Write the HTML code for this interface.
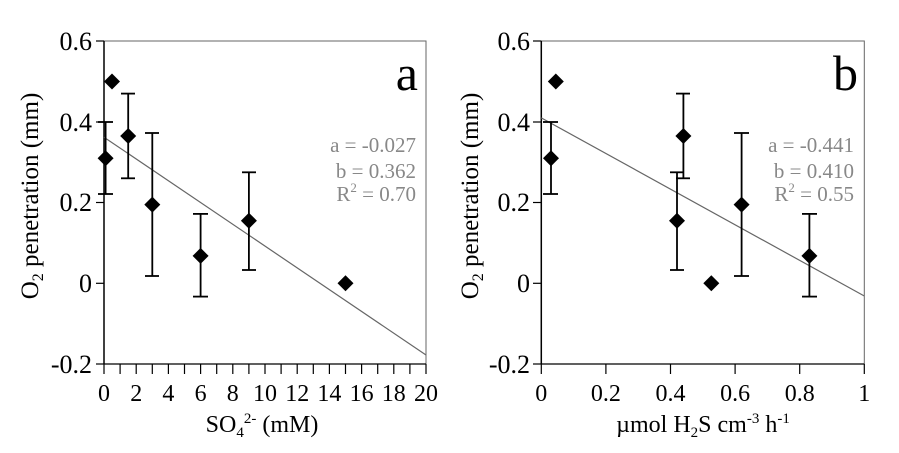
<!DOCTYPE html>
<html><head><style>body{margin:0;background:#fff}svg{display:block}text{font-family:"Liberation Serif",serif}</style></head>
<body>
<svg width="899" height="453" viewBox="0 0 899 453" xmlns="http://www.w3.org/2000/svg">
<defs><path id="d" d="M0,-8 L8,0 L0,8 L-8,0Z" fill="#000"/></defs>
<!-- Panel a -->
<g>
<rect x="104" y="41" width="322" height="323" fill="none" stroke="#666" stroke-width="1"/>
<line x1="104" y1="41" x2="104" y2="364" stroke="#000" stroke-width="1.5"/>
<line x1="104" y1="364" x2="426" y2="364" stroke="#000" stroke-width="1.2"/>
<g stroke="#000" stroke-width="1.2">
<line x1="96" y1="41" x2="104" y2="41"/><line x1="96" y1="122" x2="104" y2="122"/><line x1="96" y1="202.5" x2="104" y2="202.5"/><line x1="96" y1="283.3" x2="104" y2="283.3"/><line x1="96" y1="364" x2="104" y2="364"/>
<line x1="104" y1="364" x2="104" y2="374"/><line x1="120.1" y1="364" x2="120.1" y2="374"/><line x1="136.2" y1="364" x2="136.2" y2="374"/><line x1="152.3" y1="364" x2="152.3" y2="374"/><line x1="168.4" y1="364" x2="168.4" y2="374"/><line x1="184.5" y1="364" x2="184.5" y2="374"/><line x1="200.6" y1="364" x2="200.6" y2="374"/><line x1="216.7" y1="364" x2="216.7" y2="374"/><line x1="232.8" y1="364" x2="232.8" y2="374"/><line x1="248.9" y1="364" x2="248.9" y2="374"/><line x1="265" y1="364" x2="265" y2="374"/><line x1="281.1" y1="364" x2="281.1" y2="374"/><line x1="297.2" y1="364" x2="297.2" y2="374"/><line x1="313.3" y1="364" x2="313.3" y2="374"/><line x1="329.4" y1="364" x2="329.4" y2="374"/><line x1="345.5" y1="364" x2="345.5" y2="374"/><line x1="361.6" y1="364" x2="361.6" y2="374"/><line x1="377.7" y1="364" x2="377.7" y2="374"/><line x1="393.8" y1="364" x2="393.8" y2="374"/><line x1="409.9" y1="364" x2="409.9" y2="374"/><line x1="426" y1="364" x2="426" y2="374"/>
</g>
<g font-size="26" text-anchor="end" fill="#000">
<text x="92" y="50">0.6</text><text x="92" y="131">0.4</text><text x="92" y="211">0.2</text><text x="92" y="292">0</text><text x="92" y="373">-0.2</text>
</g>
<g font-size="24" text-anchor="middle" fill="#000">
<text x="104" y="401">0</text><text x="136.2" y="401">2</text><text x="168.4" y="401">4</text><text x="200.6" y="401">6</text><text x="232.8" y="401">8</text><text x="265" y="401">10</text><text x="297.2" y="401">12</text><text x="329.4" y="401">14</text><text x="361.6" y="401">16</text><text x="393.8" y="401">18</text><text x="426" y="401">20</text>
</g>
<text x="262" y="432" font-size="24" text-anchor="middle">SO<tspan font-size="15" dy="5">4</tspan><tspan font-size="15" dy="-14">2-</tspan><tspan dy="9"> (mM)</tspan></text>
<text transform="translate(38,196) rotate(-90)" font-size="25" text-anchor="middle">O<tspan font-size="16" dy="5">2</tspan><tspan dy="-5"> penetration (mm)</tspan></text>
<line x1="104" y1="137.2" x2="426" y2="355" stroke="#666" stroke-width="1.2"/>
<g stroke="#000" stroke-width="1.8">
<line x1="105.6" y1="122" x2="105.6" y2="194"/><line x1="98" y1="122" x2="113" y2="122"/><line x1="98" y1="194" x2="113" y2="194"/>
<line x1="128.2" y1="93.6" x2="128.2" y2="178.3"/><line x1="121" y1="93.6" x2="135" y2="93.6"/><line x1="121" y1="178.3" x2="135" y2="178.3"/>
<line x1="152.3" y1="133" x2="152.3" y2="276"/><line x1="145" y1="133" x2="159" y2="133"/><line x1="145" y1="276" x2="159" y2="276"/>
<line x1="200.6" y1="213.9" x2="200.6" y2="296.6"/><line x1="193" y1="213.9" x2="208" y2="213.9"/><line x1="193" y1="296.6" x2="208" y2="296.6"/>
<line x1="248.9" y1="172.3" x2="248.9" y2="270"/><line x1="242" y1="172.3" x2="256" y2="172.3"/><line x1="242" y1="270" x2="256" y2="270"/>
</g>
<use href="#d" x="105.6" y="158.2"/><use href="#d" x="112" y="81.5"/><use href="#d" x="128.2" y="136"/><use href="#d" x="152.3" y="204.6"/><use href="#d" x="200.6" y="255.9"/><use href="#d" x="248.9" y="220.7"/><use href="#d" x="345.5" y="283.3"/>
<text x="418" y="90" font-size="50" text-anchor="end">a</text>
<g font-size="21" fill="#888" text-anchor="end"><text x="416" y="152">a = -0.027</text><text x="416" y="178">b = 0.362</text><text x="416" y="201">R<tspan font-size="13" dy="-9">2</tspan><tspan dy="9"> = 0.70</tspan></text></g>
</g>
<!-- Panel b -->
<g>
<rect x="541.3" y="41" width="323" height="323" fill="none" stroke="#666" stroke-width="1"/>
<line x1="541.3" y1="41" x2="541.3" y2="364" stroke="#000" stroke-width="1.5"/>
<line x1="541.3" y1="364" x2="864.3" y2="364" stroke="#000" stroke-width="1.2"/>
<g stroke="#000" stroke-width="1.2">
<line x1="533" y1="41" x2="541.3" y2="41"/><line x1="533" y1="122" x2="541.3" y2="122"/><line x1="533" y1="202.5" x2="541.3" y2="202.5"/><line x1="533" y1="283.3" x2="541.3" y2="283.3"/><line x1="533" y1="364" x2="541.3" y2="364"/>
<line x1="541.3" y1="364" x2="541.3" y2="374"/><line x1="605.9" y1="364" x2="605.9" y2="374"/><line x1="670.5" y1="364" x2="670.5" y2="374"/><line x1="735.1" y1="364" x2="735.1" y2="374"/><line x1="799.7" y1="364" x2="799.7" y2="374"/><line x1="864.3" y1="364" x2="864.3" y2="374"/>
</g>
<g font-size="26" text-anchor="end" fill="#000">
<text x="530" y="50">0.6</text><text x="530" y="131">0.4</text><text x="530" y="211">0.2</text><text x="530" y="292">0</text><text x="530" y="373">-0.2</text>
</g>
<g font-size="24" text-anchor="middle" fill="#000">
<text x="541.3" y="401">0</text><text x="605.9" y="401">0.2</text><text x="670.5" y="401">0.4</text><text x="735.1" y="401">0.6</text><text x="799.7" y="401">0.8</text><text x="864.3" y="401">1</text>
</g>
<text x="703" y="432" font-size="24" text-anchor="middle">µmol H<tspan font-size="15" dy="5">2</tspan><tspan dy="-5">S cm</tspan><tspan font-size="15" dy="-9">-3</tspan><tspan dy="9"> h</tspan><tspan font-size="15" dy="-9">-1</tspan></text>
<text transform="translate(478,196) rotate(-90)" font-size="25" text-anchor="middle">O<tspan font-size="16" dy="5">2</tspan><tspan dy="-5"> penetration (mm)</tspan></text>
<line x1="541.3" y1="117.9" x2="864.3" y2="296" stroke="#666" stroke-width="1.2"/>
<g stroke="#000" stroke-width="1.8">
<line x1="551" y1="122" x2="551" y2="194"/><line x1="543" y1="122" x2="558" y2="122"/><line x1="543" y1="194" x2="558" y2="194"/>
<line x1="683.4" y1="93.6" x2="683.4" y2="178.3"/><line x1="676" y1="93.6" x2="690" y2="93.6"/><line x1="676" y1="178.3" x2="690" y2="178.3"/>
<line x1="677" y1="172.3" x2="677" y2="270"/><line x1="670" y1="172.3" x2="684" y2="172.3"/><line x1="670" y1="270" x2="684" y2="270"/>
<line x1="741.6" y1="133" x2="741.6" y2="276"/><line x1="734" y1="133" x2="749" y2="133"/><line x1="734" y1="276" x2="749" y2="276"/>
<line x1="809.4" y1="213.9" x2="809.4" y2="296.6"/><line x1="802" y1="213.9" x2="817" y2="213.9"/><line x1="802" y1="296.6" x2="817" y2="296.6"/>
</g>
<use href="#d" x="551" y="158.2"/><use href="#d" x="555.8" y="81.5"/><use href="#d" x="683.4" y="136"/><use href="#d" x="677" y="220.7"/><use href="#d" x="711.3" y="283.3"/><use href="#d" x="741.6" y="204.6"/><use href="#d" x="809.4" y="255.9"/>
<text x="858" y="90" font-size="50" text-anchor="end">b</text>
<g font-size="21" fill="#888" text-anchor="end"><text x="854" y="152">a = -0.441</text><text x="854" y="178">b = 0.410</text><text x="854" y="201">R<tspan font-size="13" dy="-9">2</tspan><tspan dy="9"> = 0.55</tspan></text></g>
</g>
</svg>
</body></html>
